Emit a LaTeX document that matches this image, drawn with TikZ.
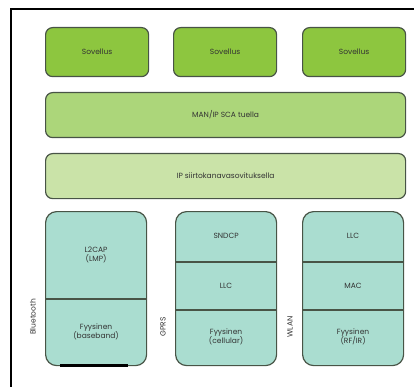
\documentclass[tikz,border=0pt]{standalone}
\usepackage{fontspec}
\setmainfont{Poppins}
\definecolor{appgreen}{RGB}{141,198,63}
\definecolor{midgreen}{RGB}{172,214,122}
\definecolor{palegreen}{RGB}{202,227,168}
\definecolor{stackteal}{RGB}{170,221,208}
\definecolor{boxline}{RGB}{72,84,70}

\begin{document}
\begin{tikzpicture}[x=1pt, y=-1pt, font=\fontsize{7.5}{9}\selectfont, text=black!80,
    layerbox/.style={draw=boxline, line width=1.2pt, rounded corners=7pt, inner sep=0pt,
      anchor=north west, align=center},
    stackbox/.style={layerbox, fill=stackteal, rounded corners=11pt, minimum width=101pt,
      minimum height=154pt},
    sidelabel/.style={rotate=90, font=\fontsize{7.5}{9}\selectfont}]
  \useasboundingbox (0,0) rectangle (414,387);
  \draw[line width=2pt] (11,387) -- (11,9) -- (414,9);

  % sovellukset
  \foreach \n/\xl in {app1/45, app2/173, app3/302} {
    \node[layerbox, fill=appgreen, minimum width=103pt, minimum height=49pt] (\n) at (\xl,27)
      {Sovellus};
  }
  \node[layerbox, fill=midgreen, minimum width=360pt, minimum height=45pt] (sca) at (45,92)
    {MAN/IP SCA tuella};
  \node[layerbox, fill=palegreen, minimum width=360pt, minimum height=45pt] (ip) at (45,153)
    {IP siirtokanavasovituksella};

  % protokollapinot
  \node[stackbox] (bt) at (45,211) {};
  \node[stackbox] (gprs) at (175,211) {};
  \node[stackbox] (wlan) at (302,211) {};
  \coordinate (cut1) at (0,262);
  \coordinate (cut2) at (0,310);
  \coordinate (cut3) at (0,299);
  \draw[boxline, line width=1.2pt] (bt.west |- cut3) -- (bt.east |- cut3);
  \foreach \s in {gprs, wlan} {
    \draw[boxline, line width=1.2pt] (\s.west |- cut1) -- (\s.east |- cut1);
    \draw[boxline, line width=1.2pt] (\s.west |- cut2) -- (\s.east |- cut2);
  }
  \draw[line width=3pt] (60,365.5) -- (128,365.5);

  \node[align=center] (l2cap) at (bt.north |- 0,255) {L2CAP\\(LMP)};
  \node[align=center] (btphy) at (bt.north |- 0,332) {Fyysinen\\(baseband)};
  \node (sndcp) at (gprs.north |- 0,236) {SNDCP};
  \node (gllc) at (gprs.north |- 0,286) {LLC};
  \node[align=center] (gphy) at (gprs.north |- 0,337) {Fyysinen\\(cellular)};
  \node (wllc) at (wlan.north |- 0,236) {LLC};
  \node (wmac) at (wlan.north |- 0,286) {MAC};
  \node[align=center] (wphy) at (wlan.north |- 0,337) {Fyysinen\\(RF/IR)};

  \node[sidelabel] (btname) at (33,317) {Bluetooth};
  \node[sidelabel] (gprsname) at (163,327) {GPRS};
  \node[sidelabel] (wlanname) at (290,327) {WLAN};
\end{tikzpicture}
\end{document}
